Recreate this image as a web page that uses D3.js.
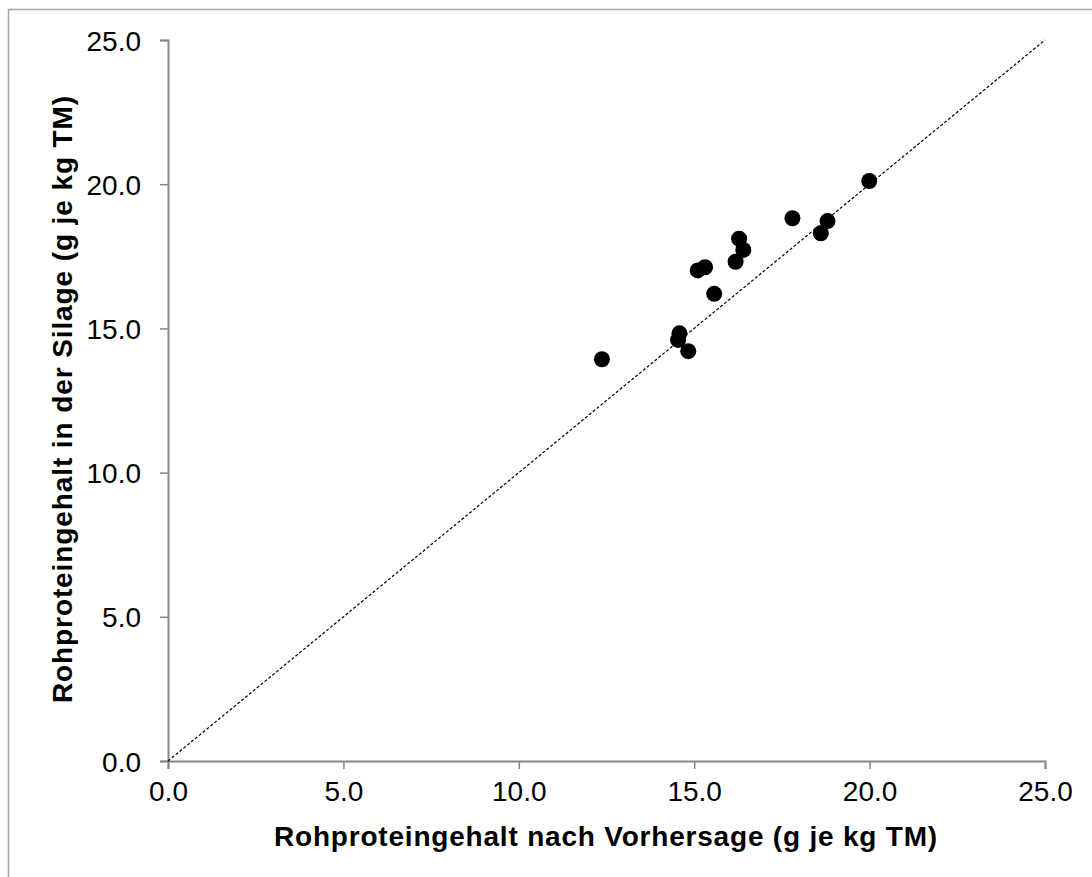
<!DOCTYPE html>
<html>
<head>
<meta charset="utf-8">
<script src="https://cdn.jsdelivr.net/npm/d3@7"></script>
<style>
  body { margin: 0; background: #fff; }
  svg { display: block; font-family: "Liberation Sans", Arial, sans-serif; }
</style>
</head>
<body>
<div id="chart"></div>
<script>
const w = 1092;
const h = 877;

// data
const predicted = [12.37, 14.58, 14.54, 14.83, 15.57, 15.10, 15.31, 16.18, 16.28, 16.40, 17.80, 18.61, 18.80, 19.99];
const measured  = [13.93, 14.83, 14.60, 14.21, 16.20, 17.01, 17.12, 17.31, 18.11, 17.72, 18.82, 18.30, 18.72, 20.11];
const tickValues = [0, 5, 10, 15, 20, 25];
const xTitle = 'Rohproteingehalt nach Vorhersage (g je kg TM)';
const yTitle = 'Rohproteingehalt in der Silage (g je kg TM)';

const x0 = 168, x1 = 1045;
const y0 = 761, y1 = 40;

const x = d3.scaleLinear().domain([0, 25]).range([x0, x1]);
const y = d3.scaleLinear().domain([0, 25]).range([y0, y1]);

const svg = d3.select('#chart')
.append('svg')
.attr('width', w)
.attr('height', h);

//outer frame
svg.append('rect')
.attr('x', 8.5).attr('y', 9.5)
.attr('width', 1100).attr('height', 900)
.attr('fill', 'none')
.attr('stroke', '#a6a6a6')
.attr('stroke-width', 1.5);

//axes
const xAxis = svg.append('g')
.attr('transform', `translate(0,${y0})`)
.call(d3.axisBottom(x).tickValues(tickValues).tickFormat(d3.format('.1f')).tickSize(8).tickPadding(12));

const yAxis = svg.append('g')
.attr('transform', `translate(${x0},0)`)
.call(d3.axisLeft(y).tickValues(tickValues).tickFormat(d3.format('.1f')).tickSize(8).tickPadding(19));

[xAxis, yAxis].forEach(ax => {
    ax.select('.domain').attr('stroke', '#868686').attr('stroke-width', 2);
    ax.selectAll('.tick line').attr('stroke', '#868686').attr('stroke-width', 1.5);
    ax.selectAll('.tick text')
    .attr('fill', '#000')
    .style('font-size', '28px')
    .style('font-family', '"Liberation Sans", Arial, sans-serif');
});
yAxis.selectAll('.tick text').attr('dy', '0.36em');

//1:1 line
svg.append('line')
.attr('x1', x(0)).attr('y1', y(0))
.attr('x2', x(25)).attr('y2', y(25))
.attr('stroke', '#000')
.attr('stroke-width', 1.2)
.attr('stroke-dasharray', '3,2');

//points
svg.selectAll('.dot')
.data(predicted)
.enter()
.append('circle')
.attr('class', 'dot')
.attr('cx', d => x(d))
.attr('cy', (d, i) => y(measured[i]))
.attr('r', 8)
.attr('fill', '#000');

//titles
svg.append('text')
.attr('x', 606)
.attr('y', 846)
.attr('text-anchor', 'middle')
.style('font-size', '28px')
.style('font-weight', 'bold')
.style('letter-spacing', '0.8px')
.text(xTitle);

svg.append('text')
.attr('transform', `translate(72,399) rotate(-90)`)
.attr('text-anchor', 'middle')
.style('font-size', '28px')
.style('font-weight', 'bold')
.style('letter-spacing', '0.9px')
.text(yTitle);
</script>
</body>
</html>
